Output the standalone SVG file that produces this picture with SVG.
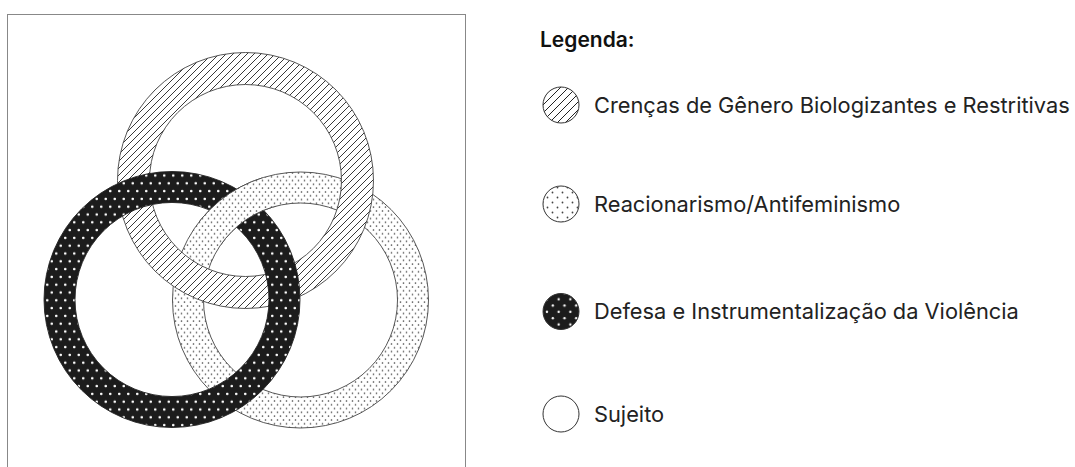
<svg xmlns="http://www.w3.org/2000/svg" width="1075" height="467" viewBox="0 0 1075 467">
<style>
.ring{stroke:#444;stroke-width:0.9;fill-rule:evenodd}
.dark{stroke:#222}
.lbl{font-family:Inter,"Noto Sans","Liberation Sans",sans-serif;font-size:21.8px;fill:#222}
.title{font-weight:600;fill:#111;font-size:21px}
.lc{stroke:#333;stroke-width:1}
</style>
<defs>
<pattern id="hatch" width="7" height="7" patternUnits="userSpaceOnUse">
<rect width="7" height="7" fill="#fff"/>
<path d="M-1,1 L1,-1 M0,7 L7,0 M6,8 L8,6" stroke="#222" stroke-width="0.9"/>
</pattern>
<pattern id="dots" width="6" height="7.6" patternUnits="userSpaceOnUse">
<rect width="6" height="7.6" fill="#fff"/>
<circle cx="1.5" cy="1.9" r="0.8" fill="#444"/>
<circle cx="4.5" cy="5.7" r="0.8" fill="#444"/>
</pattern>
<pattern id="darkdots" width="9" height="15.6" patternUnits="userSpaceOnUse">
<rect width="9" height="15.6" fill="#1c1c1c"/>
<circle cx="2.25" cy="3.9" r="1.3" fill="#fff"/>
<circle cx="6.75" cy="11.7" r="1.3" fill="#fff"/>
</pattern>
<pattern id="lhatch" width="8" height="8" patternUnits="userSpaceOnUse">
<rect width="8" height="8" fill="#fff"/>
<path d="M-1,1 L1,-1 M0,8 L8,0 M7,9 L9,7" stroke="#222" stroke-width="1"/>
</pattern>
<pattern id="ldots" width="10" height="10" patternUnits="userSpaceOnUse">
<rect width="10" height="10" fill="#fff"/>
<circle cx="2.5" cy="2.5" r="0.9" fill="#444"/>
<circle cx="7.5" cy="7.5" r="0.9" fill="#444"/>
</pattern>
<pattern id="ldark" width="11.7" height="12.6" patternUnits="userSpaceOnUse">
<rect width="11.7" height="12.6" fill="#1c1c1c"/>
<circle cx="2.9" cy="3.2" r="1.2" fill="#fff"/>
<circle cx="8.75" cy="9.5" r="1.2" fill="#fff"/>
</pattern>
<path id="ringP" d="M428.5,300 A128,128 0 1,0 172.5,300 A128,128 0 1,0 428.5,300 Z M397.5,300 A97,97 0 1,0 203.5,300 A97,97 0 1,0 397.5,300 Z"/>
<clipPath id="topcross"><circle cx="236.3" cy="207.7" r="40"/></clipPath>
</defs>
<rect x="7.5" y="14.5" width="458" height="470" fill="#fff" stroke="#888" stroke-width="1"/>
<g id="diagram">
<g id="ring-reacionarismo">
<use href="#ringP" class="ring" fill="url(#dots)"/>
</g>
<g id="ring-crencas">
<path class="ring" fill="url(#hatch)" d="M373.5,180.5 A128,128 0 1,0 117.5,180.5 A128,128 0 1,0 373.5,180.5 Z M341.5,180.5 A96,96 0 1,0 149.5,180.5 A96,96 0 1,0 341.5,180.5 Z"/>
</g>
<g id="ring-violencia">
<path class="ring dark" fill="url(#darkdots)" d="M300,299.5 A128,128 0 1,0 44,299.5 A128,128 0 1,0 300,299.5 Z M269,299.5 A97,97 0 1,0 75,299.5 A97,97 0 1,0 269,299.5 Z"/>
</g>
<g id="ring-reacionarismo-over" clip-path="url(#topcross)">
<use href="#ringP" class="ring" fill="url(#dots)"/>
</g>
</g>
<g id="legend">
<text class="lbl title" x="540" y="47">Legenda:</text>
<g id="legend-crencas">
<circle class="lc" cx="561" cy="105" r="18" fill="url(#lhatch)"/>
<text class="lbl" x="594" y="113">Crenças de Gênero Biologizantes e Restritivas</text>
</g>
<g id="legend-reacionarismo">
<circle class="lc" cx="561" cy="204" r="18" fill="url(#ldots)"/>
<text class="lbl" x="594" y="212">Reacionarismo/Antifeminismo</text>
</g>
<g id="legend-violencia">
<circle class="lc" cx="561" cy="311.5" r="18" fill="url(#ldark)"/>
<text class="lbl" x="594" y="319">Defesa e Instrumentalização da Violência</text>
</g>
<g id="legend-sujeito">
<circle class="lc" cx="561" cy="414" r="18" fill="#fff"/>
<text class="lbl" x="594" y="422">Sujeito</text>
</g>
</g>
<g id="connectors"/>
</svg>
